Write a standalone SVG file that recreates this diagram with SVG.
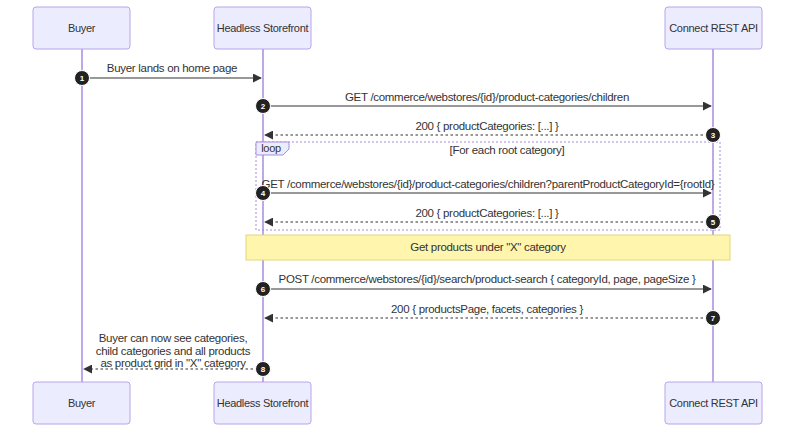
<svg xmlns="http://www.w3.org/2000/svg" width="800" height="435" viewBox="0 0 800 435">
<defs>
<style>
.actor rect{fill:#ECECFF;stroke:#b9a4ea;stroke-width:1}
.actor text{font-family:"Liberation Sans",Arial,sans-serif;font-size:11px;letter-spacing:-0.3px;fill:#333;text-anchor:middle;dominant-baseline:central}
.life{stroke:#a78be0;stroke-width:1.5}
.msg{stroke:#333;stroke-width:1.2;fill:none}
.dash{stroke-dasharray:2.5,2.5}
.lbl{font-family:"Liberation Sans",Arial,sans-serif;font-size:11.5px;letter-spacing:-0.3px;fill:#333;text-anchor:middle}
.num circle{fill:#222;stroke:#fff;stroke-width:1}
.num text{font-family:"Liberation Sans",Arial,sans-serif;font-size:8px;font-weight:bold;fill:#fff;text-anchor:middle;dominant-baseline:central}
</style>
<marker id="ah" viewBox="0 0 10 10" refX="9" refY="5" markerWidth="9" markerHeight="9" markerUnits="userSpaceOnUse" orient="auto"><path d="M0,0 L10,5 L0,10 z" fill="#333"/></marker>
</defs>
<rect width="800" height="435" fill="#fff"/>
<g id="lifelines">
<line class="life" x1="82" y1="49" x2="82" y2="382"/>
<line class="life" x1="263" y1="49" x2="263" y2="382"/>
<line class="life" x1="713" y1="49" x2="713" y2="382"/>
</g>
<g id="loop">
<rect x="256" y="142" width="464" height="88" fill="none" stroke="#a78be0" stroke-width="1" stroke-dasharray="2,2"/>
<polygon points="256,142 289,142 289,149 283,155 256,155" fill="#ECECFF" stroke="#a78be0" stroke-width="1"/>
<text x="271" y="152" class="lbl" style="font-size:11px">loop</text>
<text x="507" y="154" class="lbl">[For each root category]</text>
</g>
<g id="note">
<rect x="246" y="235" width="484" height="25" fill="#fff5ad" stroke="#e0d87a" stroke-width="1"/>
<text x="488" y="251" class="lbl">Get products under "X" category</text>
</g>
<g id="actor-buyer-top" class="actor"><rect x="33" y="7" width="97" height="42" rx="3"/><text x="81.5" y="28">Buyer</text></g>
<g id="actor-storefront-top" class="actor"><rect x="214" y="7" width="97" height="42" rx="3"/><text x="262.5" y="28">Headless Storefront</text></g>
<g id="actor-api-top" class="actor"><rect x="665" y="7" width="97" height="42" rx="3"/><text x="713.5" y="28">Connect REST API</text></g>
<g id="actor-buyer-bottom" class="actor"><rect x="33" y="382" width="97" height="42" rx="3"/><text x="81.5" y="403">Buyer</text></g>
<g id="actor-storefront-bottom" class="actor"><rect x="214" y="382" width="97" height="42" rx="3"/><text x="262.5" y="403">Headless Storefront</text></g>
<g id="actor-api-bottom" class="actor"><rect x="665" y="382" width="97" height="42" rx="3"/><text x="713.5" y="403">Connect REST API</text></g>
<g id="connectors">
<line class="msg" x1="82" y1="78" x2="261" y2="78" marker-end="url(#ah)"/>
<text class="lbl" x="172" y="72">Buyer lands on home page</text>
<line class="msg" x1="263" y1="106" x2="711" y2="106" marker-end="url(#ah)"/>
<text class="lbl" x="487" y="101">GET /commerce/webstores/{id}/product-categories/children</text>
<line class="msg dash" x1="713" y1="135" x2="265" y2="135" marker-end="url(#ah)"/>
<text class="lbl" x="487" y="130">200 { productCategories: [...] }</text>
<line class="msg" x1="263" y1="193" x2="711" y2="193" marker-end="url(#ah)"/>
<text class="lbl" x="488" y="188">GET /commerce/webstores/{id}/product-categories/children?parentProductCategoryId={rootId}</text>
<line class="msg dash" x1="713" y1="222" x2="265" y2="222" marker-end="url(#ah)"/>
<text class="lbl" x="487" y="217">200 { productCategories: [...] }</text>
<line class="msg" x1="263" y1="289" x2="711" y2="289" marker-end="url(#ah)"/>
<text class="lbl" x="487" y="283">POST /commerce/webstores/{id}/search/product-search { categoryId, page, pageSize }</text>
<line class="msg dash" x1="713" y1="318" x2="265" y2="318" marker-end="url(#ah)"/>
<text class="lbl" x="487" y="313">200 { productsPage, facets, categories }</text>
<line class="msg dash" x1="263" y1="369" x2="84" y2="369" marker-end="url(#ah)"/>
<text class="lbl" x="173" y="342">Buyer can now see categories,</text>
<text class="lbl" x="173" y="355">child categories and all products</text>
<text class="lbl" x="173" y="367">as product grid in "X" category</text>
</g>
<g id="numbers">
<g class="num"><circle cx="82" cy="78" r="7.5"/><text x="82" y="78.5">1</text></g>
<g class="num"><circle cx="263" cy="106" r="7.5"/><text x="263" y="106.5">2</text></g>
<g class="num"><circle cx="713" cy="135" r="7.5"/><text x="713" y="135.5">3</text></g>
<g class="num"><circle cx="263" cy="193" r="7.5"/><text x="263" y="193.5">4</text></g>
<g class="num"><circle cx="713" cy="222" r="7.5"/><text x="713" y="222.5">5</text></g>
<g class="num"><circle cx="263" cy="289" r="7.5"/><text x="263" y="289.5">6</text></g>
<g class="num"><circle cx="713" cy="318" r="7.5"/><text x="713" y="318.5">7</text></g>
<g class="num"><circle cx="263" cy="369" r="7.5"/><text x="263" y="369.5">8</text></g>
</g>
</svg>
